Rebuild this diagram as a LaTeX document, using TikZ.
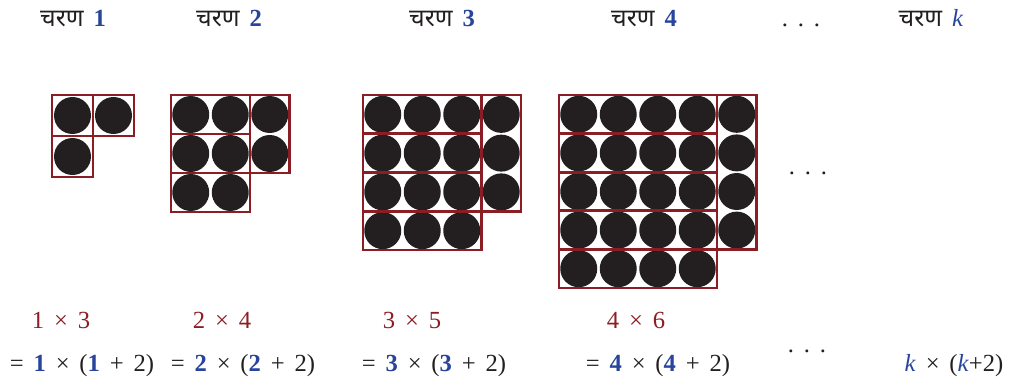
\documentclass[tikz,border=0pt]{standalone}
\usepackage{fontspec}
\setmainfont{Liberation Serif}
\newfontfamily\devfont[Script=Devanagari]{Noto Sans}
\usetikzlibrary{positioning}
\definecolor{boxcolor}{RGB}{139,30,36}
\definecolor{numcolor}{RGB}{40,68,155}
\definecolor{inkcolor}{RGB}{35,31,32}
\tikzset{
  cellbox/.style={draw=boxcolor, line width=1.7pt},
  dot/.style={fill=inkcolor},
  lbl/.style={anchor=base, inner sep=0pt, text=inkcolor,
    font=\fontsize{14}{17}\selectfont},
}
\newcommand{\stgnum}[1]{\textcolor{numcolor}{\textbf{#1}}}
\newcommand{\gap}{\hspace{0.4em}}
\begin{document}
\begin{tikzpicture}
    \useasboundingbox (0,0) rectangle (20.22,7.64);

    % stage headers
    \node[lbl] (h1) at (1.46,7.12) {{\devfont चरण}\gap\stgnum{1}};
    \node[lbl] (h2) at (4.58,7.12) {{\devfont चरण}\gap\stgnum{2}};
    \node[lbl] (h3) at (8.84,7.12) {{\devfont चरण}\gap\stgnum{3}};
    \node[lbl] (h4) at (12.88,7.12) {{\devfont चरण}\gap\stgnum{4}};
    \node[lbl] (hdots) at (16.02,7.12) {.\gap.\gap.};
    \node[lbl] (hk) at (18.62,7.12) {{\devfont चरण}\gap\textcolor{numcolor}{\textit{k}}};

    % dot patterns (n rows+1 of n dots, plus a column of n)
    \foreach \n/\x/\w/\h in {1/1.04/0.82/0.82, 2/3.42/0.79/0.78, 3/7.26/0.79/0.775, 4/11.18/0.79/0.772}{
        \begin{scope}[shift={(\x,5.74)}]
            \pgfmathtruncatemacro{\m}{\n+1}
            \foreach \r in {1,...,\m}
                \foreach \c in {1,...,\n}
                    \fill[dot] ({(\c-0.5)*\w},{-(\r-0.5)*\h}) circle (0.37);
            \foreach \r in {1,...,\n}
                \fill[dot] ({(\n+0.5)*\w},{-(\r-0.5)*\h}) circle (0.37);
            \foreach \r in {1,...,\m}
                \draw[cellbox] (0,{-(\r-1)*\h}) rectangle ({\n*\w},{-\r*\h});
            \draw[cellbox] ({\n*\w},0) rectangle ({(\n+1)*\w},{-\n*\h});
        \end{scope}
    }
    \node[lbl] (mdots) at (16.16,4.16) {.\gap.\gap.};

    % products
    \node[lbl, text=boxcolor] (p1) at (1.22,1.08) {1\gap×\gap3};
    \node[lbl, text=boxcolor] (p2) at (4.44,1.08) {2\gap×\gap4};
    \node[lbl, text=boxcolor] (p3) at (8.24,1.08) {3\gap×\gap5};
    \node[lbl, text=boxcolor] (p4) at (12.72,1.08) {4\gap×\gap6};

    \node[lbl] (e1) at (1.64,0.22) {=\gap\stgnum{1}\gap×\gap(\stgnum{1}\gap+\gap2)};
    \node[lbl] (e2) at (4.86,0.22) {=\gap\stgnum{2}\gap×\gap(\stgnum{2}\gap+\gap2)};
    \node[lbl] (e3) at (8.68,0.22) {=\gap\stgnum{3}\gap×\gap(\stgnum{3}\gap+\gap2)};
    \node[lbl] (e4) at (13.16,0.22) {=\gap\stgnum{4}\gap×\gap(\stgnum{4}\gap+\gap2)};
    \node[lbl] (edots) at (16.14,0.60) {.\gap.\gap.};
    \node[lbl] (ek) at (19.08,0.22) {\textcolor{numcolor}{\textit{k}}\gap×\gap(\textcolor{numcolor}{\textit{k}}+2)};
\end{tikzpicture}
\end{document}
